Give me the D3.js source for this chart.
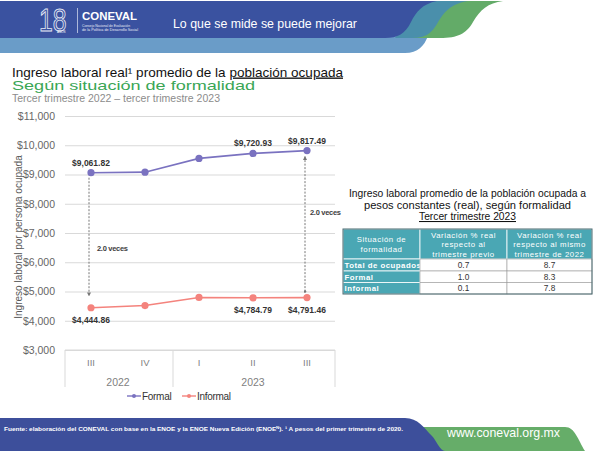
<!DOCTYPE html>
<html>
<head>
<meta charset="utf-8">
<script src="https://cdn.jsdelivr.net/npm/d3@7"></script>
<style>
  html, body { margin: 0; padding: 0; background: #fff; }
  svg { display: block; }
  text { font-family: "Liberation Sans", Arial, sans-serif; }
</style>
</head>
<body>
<svg id="chart" width="600" height="451"></svg>
<script>
// ---------- DATA ----------
const quarters = ["III", "IV", "I", "II", "III"];
const years = ["2022", "2022", "2023", "2023", "2023"];
const yearGroups = ["2022", "2023"];
const formal = [9061.82, 9080, 9550, 9720.93, 9817.49];
const informal = [4444.86, 4520, 4797, 4784.79, 4791.46];
const formalLabels = ["$9,061.82", null, null, "$9,720.93", "$9,817.49"];
const informalLabels = ["$4,444.86", null, null, "$4,784.79", "$4,791.46"];
const ratioLabels = ["2.0 veces", "2.0 veces"];
const ratioIndex = [0, 4];
const yTicks = [3000, 4000, 5000, 6000, 7000, 8000, 9000, 10000, 11000];
const seriesNames = ["Formal", "Informal"];

const tableTitle = ["Ingreso laboral promedio de la población ocupada a",
                    "pesos constantes (real), según formalidad",
                    "Tercer trimestre 2023"];
const tableHeader = [["Situación de", "formalidad"],
                     ["Variación % real", "respecto al", "trimestre previo"],
                     ["Variación % real", "respecto al mismo", "trimestre de 2022"]];
const tableRows = ["Total de ocupados", "Formal", "Informal"];
const varPrevious = ["0.7", "1.0", "0.1"];
const varYear = ["8.7", "8.3", "7.8"];

// ---------- SETUP ----------
const svg = d3.select("#chart");
const cFormal = "#7a72c0", cInformal = "#f4837d";
const teal = "#4aa7b4";

// ---------- HEADER ----------
const hdr = svg.append("g");
hdr.append("path").attr("fill", "#6a9cc8")
  .attr("d", "M0,36 L428,36 C424,46 418,53 405,53 L0,53 Z");
hdr.append("path").attr("fill", "#63ab68")
  .attr("d", "M455,1 L503,1 C488,3 480,10 473,22 C466,34 458,38 440,38 L410,38 Z");
hdr.append("path").attr("fill", "#4a8fab")
  .attr("d", "M425,1 L468,1 C450,4 444,12 437,24 C430,35 425,38 410,38 L395,38 Z");
hdr.append("path").attr("fill", "#3a52a0")
  .attr("d", "M0,1 L437,1 C422,4 416,12 411,22 C405,34 398,38 385,38 L0,38 Z");
// logo: "18" with "AÑOS" as one text element
const logo = hdr.append("text").attr("transform", "translate(39,31) scale(0.8,1)")
  .attr("font-family", "Lato").attr("font-weight", 300);
logo.append("tspan").attr("font-size", 31).attr("fill", "none")
  .attr("stroke", "#e8ecf6").attr("stroke-width", 0.9).text("18");
logo.append("tspan").attr("font-size", 3.8).attr("fill", "#fff").attr("dx", -12).attr("dy", 2).text("AÑOS");
hdr.append("line").attr("x1", 77.5).attr("x2", 77.5).attr("y1", 8).attr("y2", 33)
  .attr("stroke", "#dfe5f3").attr("stroke-width", 0.7);
hdr.append("text").attr("x", 82).attr("y", 20).attr("font-family", "DejaVu Sans")
  .attr("font-weight", "bold").attr("font-size", 10).attr("fill", "#fff")
  .attr("textLength", 55).attr("lengthAdjust", "spacingAndGlyphs").text("CONEVAL");
hdr.append("text").attr("x", 82).attr("y", 27).attr("font-size", 3.3).attr("fill", "#e8ecf6")
  .attr("textLength", 48).attr("lengthAdjust", "spacingAndGlyphs").text("Consejo Nacional de Evaluación");
hdr.append("text").attr("x", 82).attr("y", 31).attr("font-size", 3.3).attr("fill", "#e8ecf6")
  .attr("textLength", 56).attr("lengthAdjust", "spacingAndGlyphs").text("de la Política de Desarrollo Social");
hdr.append("text").attr("x", 173).attr("y", 28).attr("font-family", "Lato")
  .attr("font-size", 13).attr("fill", "#fff")
  .attr("textLength", 184).attr("lengthAdjust", "spacingAndGlyphs")
  .text("Lo que se mide se puede mejorar");

// ---------- TITLES ----------
const t1 = svg.append("text").attr("x", 12).attr("y", 76.5).attr("font-size", 13.5).attr("fill", "#111")
  .attr("textLength", 331).attr("lengthAdjust", "spacingAndGlyphs");
t1.append("tspan").text("Ingreso laboral real¹ promedio de la ");
t1.append("tspan").style("text-decoration", "underline").text("población ocupada");
svg.append("text").attr("x", 12).attr("y", 90).attr("font-size", 13).attr("fill", "#3aa655")
  .attr("textLength", 243).attr("lengthAdjust", "spacingAndGlyphs").text("Según situación de formalidad");
svg.append("text").attr("x", 12).attr("y", 102).attr("font-size", 11.5).attr("fill", "#8c8c8c")
  .attr("textLength", 208).attr("lengthAdjust", "spacingAndGlyphs")
  .text("Tercer trimestre 2022 – tercer trimestre 2023");

// ---------- CHART ----------
const x = d3.scaleBand().domain(d3.range(quarters.length)).range([64, 334]).padding(0);
const cx = i => x(i) + x.bandwidth() / 2;
const y = d3.scaleLinear().domain([3000, 11000]).range([350, 116]);

const grid = svg.append("g").attr("transform", "translate(65,0)")
  .call(d3.axisLeft(y).tickValues(yTicks).tickSize(-270).tickFormat(""));
grid.select(".domain").remove();
grid.selectAll("line").attr("stroke", "#d9d9d9").attr("stroke-width", 1);

const yAxis = svg.append("g").attr("transform", "translate(65,0)")
  .call(d3.axisLeft(y).tickValues(yTicks).tickSize(0).tickPadding(10).tickFormat(d3.format("$,")));
yAxis.select(".domain").remove();
yAxis.selectAll("text").attr("font-size", 10.5).attr("fill", "#666")
  .attr("font-family", "Liberation Sans, Arial, sans-serif");

svg.append("text").attr("transform", "translate(22,237) rotate(-90)")
  .attr("text-anchor", "middle").attr("font-size", 10).attr("fill", "#595959")
  .text("Ingreso laboral por persona ocupada");

const xAxis = svg.append("g").attr("transform", "translate(0,350)")
  .call(d3.axisBottom(x).tickSize(0).tickPadding(9).tickFormat(i => quarters[i]));
xAxis.select(".domain").remove();
xAxis.selectAll("text").attr("font-size", 9.5).attr("fill", "#7f7f7f")
  .attr("font-family", "Liberation Sans, Arial, sans-serif");

const groupBounds = yearGroups.map(g => {
  const idx = d3.range(years.length).filter(i => years[i] === g);
  return { g, x0: x(idx[0]), x1: x(idx[idx.length - 1]) + x.bandwidth() };
});
svg.append("line").attr("x1", 65).attr("x2", 335).attr("y1", 350).attr("y2", 350)
  .attr("stroke", "#d9d9d9");
const sepX = [65].concat(groupBounds.map(b => b.x1 + 1));
svg.selectAll(".sep").data(sepX).enter().append("line")
  .attr("x1", d => d).attr("x2", d => d).attr("y1", 350).attr("y2", 387)
  .attr("stroke", "#d9d9d9");
svg.selectAll(".yr").data(groupBounds).enter().append("text")
  .attr("x", d => (d.x0 + d.x1) / 2).attr("y", 386).attr("text-anchor", "middle")
  .attr("font-size", 10.5).attr("fill", "#7f7f7f").text(d => d.g);

// dashed ratio arrows
const defs = svg.append("defs");
defs.append("marker").attr("id", "arr").attr("viewBox", "0 0 6 6").attr("refX", 5).attr("refY", 3)
  .attr("markerWidth", 4).attr("markerHeight", 4).attr("orient", "auto")
  .append("path").attr("d", "M0,0 L6,3 L0,6 Z").attr("fill", "#777");
defs.append("marker").attr("id", "dot").attr("viewBox", "0 0 6 6").attr("refX", 3).attr("refY", 3)
  .attr("markerWidth", 3).attr("markerHeight", 3)
  .append("circle").attr("cx", 3).attr("cy", 3).attr("r", 2.5).attr("fill", "#777");
svg.append("line").attr("x1", cx(ratioIndex[0]) - 2).attr("x2", cx(ratioIndex[0]) - 2)
  .attr("y1", y(formal[ratioIndex[0]]) + 5).attr("y2", y(informal[ratioIndex[0]]) - 12)
  .attr("stroke", "#777").attr("stroke-width", 1).attr("stroke-dasharray", "2,1.5")
  .attr("marker-end", "url(#arr)");
svg.append("line").attr("x1", cx(ratioIndex[1]) - 2).attr("x2", cx(ratioIndex[1]) - 2)
  .attr("y1", y(informal[ratioIndex[1]]) - 6).attr("y2", y(formal[ratioIndex[1]]) + 6)
  .attr("stroke", "#777").attr("stroke-width", 1).attr("stroke-dasharray", "2,1.5")
  .attr("marker-start", "url(#dot)").attr("marker-end", "url(#arr)");
svg.append("text").attr("x", cx(ratioIndex[0]) + 6).attr("y", 251).attr("font-size", 7.5)
  .attr("font-weight", "bold").attr("fill", "#404040").attr("letter-spacing", -0.3).text(ratioLabels[0]);
svg.append("text").attr("x", cx(ratioIndex[1]) + 3).attr("y", 215).attr("font-size", 7.5)
  .attr("font-weight", "bold").attr("fill", "#404040").attr("letter-spacing", -0.3).text(ratioLabels[1]);

// lines
const line = d3.line().x((d, i) => cx(i)).y(d => y(d));
[[formal, cFormal], [informal, cInformal]].forEach(([data, col]) => {
  svg.append("path").datum(data).attr("d", line).attr("fill", "none")
    .attr("stroke", col).attr("stroke-width", 1.6);
  svg.selectAll(null).data(data).enter().append("circle")
    .attr("cx", (d, i) => cx(i)).attr("cy", d => y(d)).attr("r", 3.6).attr("fill", col);
});

// data labels
const fl = formal.map((v, i) => ({ v, i, t: formalLabels[i] })).filter(d => d.t);
const il = informal.map((v, i) => ({ v, i, t: informalLabels[i] })).filter(d => d.t);
svg.selectAll(null).data(fl).enter().append("text")
  .attr("x", d => cx(d.i)).attr("y", d => y(d.v) - 7).attr("text-anchor", "middle")
  .attr("font-size", 8.5).attr("font-weight", "bold").attr("fill", "#333").text(d => d.t);
svg.selectAll(null).data(il).enter().append("text")
  .attr("x", d => cx(d.i)).attr("y", d => y(d.v) + 15).attr("text-anchor", "middle")
  .attr("font-size", 8.5).attr("font-weight", "bold").attr("fill", "#333").text(d => d.t);

// legend
const legX = [127, 182];
seriesNames.forEach((n, k) => {
  const col = k === 0 ? cFormal : cInformal;
  const g = svg.append("g").attr("transform", `translate(${legX[k]},396)`);
  g.append("line").attr("x1", 0).attr("x2", 14).attr("y1", 0).attr("y2", 0).attr("stroke", col).attr("stroke-width", 1.4);
  g.append("circle").attr("cx", 7).attr("cy", 0).attr("r", 2).attr("fill", col);
  g.append("text").attr("x", 15).attr("y", 3.5).attr("font-size", 10).attr("fill", "#333")
    .attr("letter-spacing", -0.3).text(n);
});

// ---------- TABLE ----------
const tcx = 467.5;
const ttY = [197, 208.5, 220];
const ttW = [237, 207, 97];
tableTitle.forEach((t, i) => {
  const el = svg.append("text").attr("x", tcx).attr("y", ttY[i]).attr("text-anchor", "middle")
    .attr("font-size", 10.5).attr("fill", "#111")
    .attr("textLength", ttW[i]).attr("lengthAdjust", "spacingAndGlyphs").text(t);
  if (i === 2) el.style("text-decoration", "underline");
});
const colX = [343, 420, 507, 592];
const rowY = [229, 259, 271, 282.5, 294];
const tbl = svg.append("g");
tableHeader.forEach((lines, c) => {
  tbl.append("rect").attr("x", colX[c]).attr("y", rowY[0]).attr("width", colX[c + 1] - colX[c])
    .attr("height", rowY[1] - rowY[0]).attr("fill", teal).attr("stroke", "#fff").attr("stroke-width", 0.8);
  const n = lines.length;
  const mid = (rowY[0] + rowY[1]) / 2;
  lines.forEach((l, k) => {
    tbl.append("text").attr("x", (colX[c] + colX[c + 1]) / 2)
      .attr("y", mid + (k - (n - 1) / 2) * 9.5 + 3).attr("text-anchor", "middle")
      .attr("font-size", 7.8).attr("fill", "#fff").attr("letter-spacing", 0.55).text(l);
  });
});
tableRows.forEach((r, k) => {
  const y0 = rowY[k + 1], y1 = rowY[k + 2];
  tbl.append("rect").attr("x", colX[0]).attr("y", y0).attr("width", colX[1] - colX[0]).attr("height", y1 - y0)
    .attr("fill", teal).attr("stroke", "#fff").attr("stroke-width", 0.8);
  tbl.append("text").attr("x", colX[0] + 1.5).attr("y", y1 - 2.8).attr("font-size", 7.8)
    .attr("font-weight", "bold").attr("fill", "#fff").attr("letter-spacing", 0.5).text(r);
  [varPrevious[k], varYear[k]].forEach((v, c) => {
    tbl.append("rect").attr("x", colX[c + 1]).attr("y", y0).attr("width", colX[c + 2] - colX[c + 1])
      .attr("height", y1 - y0).attr("fill", "#fff").attr("stroke", "#9a9a9a").attr("stroke-width", 0.6);
    tbl.append("text").attr("x", (colX[c + 1] + colX[c + 2]) / 2).attr("y", y1 - 2.8)
      .attr("text-anchor", "middle").attr("font-size", 8.3).attr("fill", "#333").text(v);
  });
});
tbl.append("rect").attr("x", colX[0]).attr("y", rowY[0]).attr("width", colX[3] - colX[0])
  .attr("height", rowY[4] - rowY[0]).attr("fill", "none").attr("stroke", "#4a6a70").attr("stroke-width", 1);

// ---------- FOOTER ----------
svg.append("path").attr("fill", "#66ad69")
  .attr("d", "M410,427 L565,427 C575,427 578,440 585,451 L410,451 Z");
svg.append("path").attr("fill", "#3d4f9b")
  .attr("d", "M0,418 L405,418 C418,418 424,428 432,436 C436,440 440,451 445,451 L0,451 Z");
svg.append("text").attr("x", 4).attr("y", 431).attr("font-size", 6).attr("font-weight", "bold")
  .attr("fill", "#fff").attr("textLength", 399).attr("lengthAdjust", "spacingAndGlyphs")
  .text("Fuente: elaboración del CONEVAL con base en la ENOE y la ENOE Nueva Edición (ENOEᴺ). ¹ A pesos del primer trimestre de 2020.");
svg.append("text").attr("x", 447).attr("y", 437).attr("font-family", "Lato").attr("font-size", 13)
  .attr("fill", "#fff").attr("textLength", 113).attr("lengthAdjust", "spacingAndGlyphs")
  .text("www.coneval.org.mx");
</script>
</body>
</html>
